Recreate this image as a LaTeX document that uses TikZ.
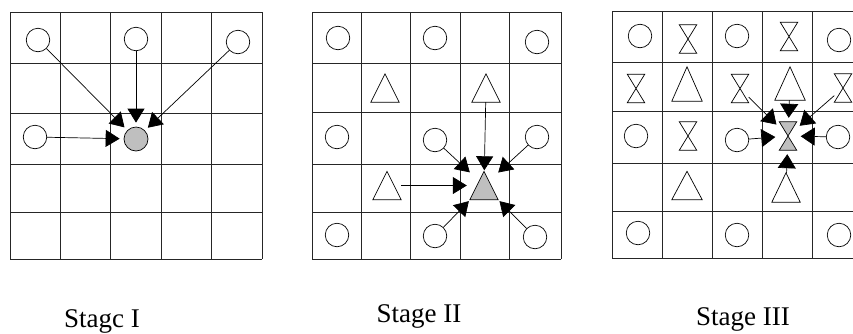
\documentclass[tikz,border=0pt]{standalone}
\usepackage{fontspec}
\setmainfont{Liberation Serif}
\usetikzlibrary{arrows.meta}
\begin{document}
\begin{tikzpicture}[x=1pt,y=-1pt,
  gridline/.style={line width=1pt, draw=black!85},
  cir/.style={circle, draw, line width=0.7pt, minimum size=23.5pt, inner sep=0pt},
  trisym/.style={inner sep=0pt, minimum width=28pt, minimum height=28pt},
  hgsym/.style={inner sep=0pt, minimum width=17pt, minimum height=28pt},
  grayfill/.style={fill=black!25},
  symline/.style={line width=0.7pt},
  link/.style={line width=0.7pt, -{Triangle[length=14pt,width=17pt]}, shorten >=3pt},
  biglink/.style={link, -{Triangle[length=14pt,width=18pt]}, shorten >=4pt},
  lbl/.style={anchor=base, font=\fontsize{27}{30}\selectfont, inner sep=0pt}
]
\useasboundingbox (0,0) rectangle (853,333);
\clip (0,0) rectangle (853,333);

% ---------- the three 5x5 grids ----------
\foreach \x in {10,60,110,161,211,262} \draw[gridline] (\x,12) -- (\x,259);
\foreach \y in {12,63,113,164,212,259} \draw[gridline] (10,\y) -- (262,\y);
\foreach \x in {312,361,410,460,509,561} \draw[gridline] (\x,12) -- (\x,259);
\foreach \y in {12,63,112,164,212,259} \draw[gridline] (312,\y) -- (561,\y);
\foreach \x in {612,662,712,762,812,863} \draw[gridline] (\x,11) -- (\x,258);
\foreach \y in {11,62,111,163,211,258} \draw[gridline] (612,\y) -- (863,\y);

% ---------- Stage I ----------
\node[cir] (a1) at (38,40) {};
\node[cir] (a2) at (136,39) {};
\node[cir] (a3) at (238,42) {};
\node[cir] (a4) at (35,137) {};
\node[cir, grayfill, minimum size=24pt] (g1) at (136,139) {};
\foreach \n in {a1,a2,a3,a4} \draw[link, shorten >=4pt] (\n) -- (g1);

% ---------- Stage II ----------
\node[cir] (b1) at (338,38) {};
\node[cir] (b2) at (435,38) {};
\node[cir] (b3) at (537,42) {};
\node[trisym] (b4) at (385,88) {};
\node[trisym] (b5) at (486,88) {};
\node[cir] (b6) at (337,137) {};
\node[cir] (b7) at (435,140) {};
\node[cir] (b8) at (537,137) {};
\node[trisym] (b9) at (387,185.5) {};
\node[trisym] (g2) at (484,185.5) {};
\node[cir] (b10) at (337,235) {};
\node[cir] (b11) at (435,236) {};
\node[cir] (b12) at (535,237) {};
\foreach \n in {b4,b5,b9}
  \draw[symline] (\n.south west) -- (\n.south east) -- (\n.north) -- cycle;
\draw[symline, grayfill] (g2.south west) -- (g2.south east) -- (g2.north) -- cycle;
\draw[link, shorten >=1pt] (b5) -- (g2);
\draw[link, shorten >=0pt] (b7) -- (g2);
\draw[link, shorten >=0pt] (b8) -- (g2);
\draw[link] (b9) -- (g2);
\draw[link, shorten >=2pt] (b11) -- (g2);
\draw[link, shorten >=2pt] (b12) -- (g2);

% ---------- Stage III ----------
\node[cir] (c1) at (640,36) {};
\node[hgsym] (c2) at (688,39) {};
\node[cir] (c3) at (737,36) {};
\node[hgsym] (c4) at (789,36.5) {};
\node[cir] (c5) at (839,40) {};
\node[hgsym] (c6) at (636,88.5) {};
\node[trisym, minimum width=30pt, minimum height=34pt] (c7) at (687,84) {};
\node[hgsym] (c8) at (740,88.5) {};
\node[trisym, minimum width=30pt, minimum height=33pt] (c9) at (790,83.5) {};
\node[hgsym] (c10) at (843,88) {};
\node[cir] (c11) at (636,136) {};
\node[hgsym] (c12) at (688,136) {};
\node[cir] (c13) at (737,140) {};
\node[hgsym] (g3) at (788,136) {};
\node[cir] (c14) at (838,137) {};
\node[trisym, minimum width=30pt] (c15) at (687,185.5) {};
\node[trisym, minimum height=29pt] (c16) at (786,187.5) {};
\node[cir] (c17) at (638,233) {};
\node[cir] (c18) at (737,235) {};
\node[cir] (c19) at (839,235) {};
\foreach \n in {c2,c4,c6,c8,c10,c12}
  \draw[symline] (\n.north west) -- (\n.north east) -- (\n.south west) -- (\n.south east) -- cycle;
\draw[symline, grayfill] (g3.north west) -- (g3.north east) -- (g3.south west) -- (g3.south east) -- cycle;
\foreach \n in {c7,c9,c15,c16}
  \draw[symline] (\n.south west) -- (\n.south east) -- (\n.north) -- cycle;
\foreach \n in {c8,c9,c10,c13,c14,c16} \draw[biglink] (\n) -- (g3);

% ---------- captions ----------
\node[lbl] (t1) at (102,327) {Stagc I};
\node[lbl] (t2) at (419,322) {Stage II};
\node[lbl] (t3) at (743,325) {Stage III};
\end{tikzpicture}
\end{document}
